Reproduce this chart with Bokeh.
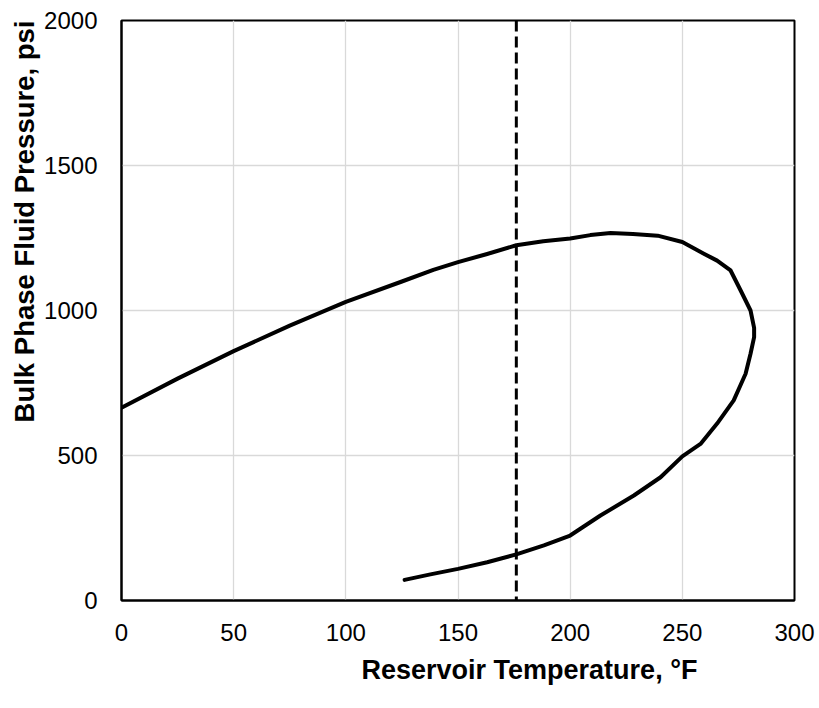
from bokeh.plotting import figure
from bokeh.models import Range1d, Span, Title, FixedTicker
from bokeh.embed import file_html
from bokeh.resources import INLINE

# Data
temperature_F = [0, 25, 50, 75, 100, 125, 139, 150, 163, 176, 188, 200, 209, 218, 228, 239,
                 250, 259.6, 265.5, 271.5, 276, 280.4, 282, 282, 280.4, 278.2, 272.9, 265.5,
                 258.1, 250, 240.3, 228.4, 213.5, 200, 188.3, 176, 163, 150, 137.7, 126.2]
pressure_psi = [665, 765, 860, 948, 1030, 1100, 1140, 1167, 1195, 1225, 1239, 1248, 1260, 1267,
                1264, 1258, 1236, 1196, 1172, 1138, 1069, 1000, 940, 908, 851, 782, 690, 610,
                540, 497, 425, 362, 293, 224, 190, 159, 132, 109, 90, 71]
reservoir_temp = 176
x_ticks = [0, 50, 100, 150, 200, 250, 300]
y_ticks = [0, 500, 1000, 1500, 2000]

FONT = "Liberation Sans"

p = figure(width=819, height=708, output_backend="svg", toolbar_location=None,
           x_range=Range1d(0, 300), y_range=Range1d(0, 2000),
           min_border_left=121, min_border_right=25, min_border_top=20, min_border_bottom=108)

p.background_fill_color = "white"
p.border_fill_color = "white"
p.outline_line_color = "black"
p.outline_line_width = 2

p.xaxis.ticker = FixedTicker(ticks=x_ticks)
p.yaxis.ticker = FixedTicker(ticks=y_ticks)
for ax in (p.xaxis, p.yaxis):
    ax.axis_line_color = "black"
    ax.axis_line_width = 2
    ax.major_tick_out = 0
    ax.major_tick_in = 0
    ax.minor_tick_out = 0
    ax.minor_tick_in = 0
    ax.major_label_text_font = FONT
    ax.major_label_text_font_size = "24px"
    ax.major_label_text_color = "black"
p.xaxis.major_label_standoff = 23
p.yaxis.major_label_standoff = 24

p.grid.grid_line_color = "#d9d9d9"
p.grid.grid_line_width = 1.3

p.line(temperature_F, pressure_psi, line_color="black", line_width=4,
       line_join="round", line_cap="round")

p.add_layout(Span(location=reservoir_temp, dimension="height", line_color="black",
                  line_width=3, line_dash="11 5"))

ytitle = Title(text="Bulk Phase Fluid Pressure, psi", align="right", standoff=4,
               text_font=FONT, text_font_size="27.5px", text_font_style="bold",
               text_color="black")
p.add_layout(ytitle, "left")

xtitle = Title(text="Reservoir Temperature, °F", align="left", offset=240, standoff=18,
               text_font=FONT, text_font_size="27px", text_font_style="bold",
               text_color="black")
p.add_layout(xtitle, "below")

open("out.html", "w").write(file_html(p, INLINE))
